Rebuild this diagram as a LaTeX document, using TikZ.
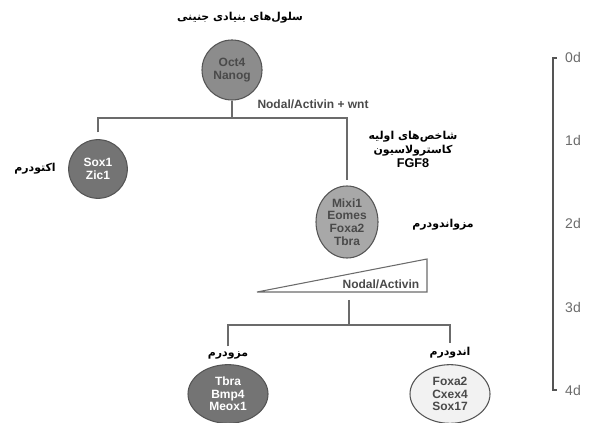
\documentclass[tikz,border=0pt]{standalone}
\usepackage{fontspec}
\setmainfont{Liberation Sans}
\newfontfamily\fa[Script=Arabic]{DejaVu Sans}
\TeXXeTstate=1
\usetikzlibrary{shapes.geometric}
\definecolor{lngray}{HTML}{6B6B6B}
\definecolor{rimgray}{HTML}{555555}
\definecolor{darkcell}{HTML}{747474}
\definecolor{midcell}{HTML}{8C8C8C}
\definecolor{lightcell}{HTML}{A8A8A8}
\definecolor{palecell}{HTML}{F2F2F2}
\definecolor{txtgray}{HTML}{4A4A4A}
\newcommand{\fatxt}[1]{{\fa\bfseries\beginR #1\endR}}

\begin{document}
\begin{tikzpicture}[x=0.75pt,y=-0.75pt,
  every node/.style={font=\bfseries\fontsize{9}{9.5}\selectfont},
  cell/.style={circle,draw=rimgray,thick,align=center,inner sep=0pt},
  oval/.style={ellipse,draw=rimgray,thick,align=center,inner sep=0pt},
  fa/.style={font=\bfseries\fontsize{8.2}{10.5}\selectfont,text=black},
  ln/.style={draw=lngray,line width=1.3pt},
  day/.style={font=\fontsize{10.5}{12}\selectfont,text=lngray}
]
\useasboundingbox (0,0) rectangle (591,423);

% cells
\node[cell,fill=midcell,text=txtgray,minimum size=45pt](ESC) at (232,70){Oct4\\Nanog};
\node[cell,fill=darkcell,text=white,minimum size=44pt](Ecto) at (98,169){Sox1\\Zic1};
\node[oval,fill=lightcell,text=txtgray,minimum width=46.5pt,minimum height=54pt](Mes) at (347,222)
     {Mixi1\\Eomes\\Foxa2\\Tbra};
\node[oval,fill=darkcell,text=white,minimum width=60pt,minimum height=44pt](Meso) at (228,394)
     {Tbra\\Bmp4\\Meox1};
\node[oval,fill=palecell,text=txtgray,minimum width=60pt,minimum height=44pt](Endo) at (450,394)
     {Foxa2\\Cxex4\\Sox17};

% labels
\node[fa](escL) at (240,18){\fatxt{سلول‌های بنیادی جنینی}};
\node[fa](ectoL) at (35,169){\fatxt{اکتودرم}};
\node[fa,align=center](mkL) at (413,149)
     {\fatxt{شاخص‌های اولیه}\\\fatxt{کاسترولاسیون}\\{\fontsize{9.5}{9.5}\selectfont FGF8}};
\node[fa](mesL) at (443,225){\fatxt{مزواندودرم}};
\node[fa](mesoL) at (228,355){\fatxt{مزودرم}};
\node[fa](endoL) at (450,353){\fatxt{اندودرم}};
\node[text=txtgray](sig1) at (313,104){Nodal/Activin + wnt};

% first split
\coordinate(s1) at (232,118);
\draw[ln](ESC)--(s1);
\draw[ln,shorten <=5pt](Ecto.north)|-(s1)-|([yshift=4pt]Mes.north);

% gradient wedge
\coordinate(wA) at (257,292);
\coordinate(wB) at (427,259);
\coordinate(wC) at (427,292);
\draw[lngray,line width=0.8pt](wA)--(wB)--(wC)--cycle;
\node[text=txtgray,anchor=south east](sig2) at (424,293){Nodal/Activin};

% second split
\coordinate(w0) at (349,300);
\coordinate(s2) at (349,325);
\draw[ln](w0)--(s2);
\draw[ln](mesoL.north)|-(s2)-|(endoL.north);

% time scale
\node[day](d0) at (573,58){0d};
\node[day](d1) at (573,140){1d};
\node[day](d2) at (573,223){2d};
\node[day](d3) at (573,307){3d};
\node[day](d4) at (573,390){4d};
\draw[draw=rimgray,line width=1.5pt]([xshift=-3pt]d0.west)-|(553,223)|-([xshift=-3pt]d4.west);
\end{tikzpicture}
\end{document}
